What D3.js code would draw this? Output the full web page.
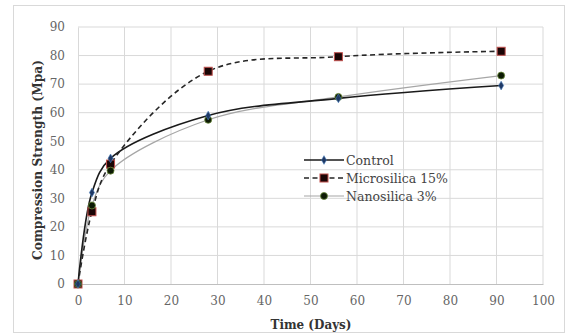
<!DOCTYPE html>
<html>
<head>
<meta charset="utf-8">
<script src="https://cdn.jsdelivr.net/npm/d3@7"></script>
<style>
  html, body { margin: 0; padding: 0; background: #fff; }
  svg { display: block; }
</style>
</head>
<body>
<svg id="chart" width="567" height="335"></svg>
<script>
// Curing age in days
const days = [0, 3, 7, 28, 56, 91];
// Compressive strength (MPa) per mix
const control = [0, 32, 44, 59, 65, 69.5];
const microsilica = [0, 25.3, 42, 74.5, 79.6, 81.5];
const nanosilica = [0, 27.5, 39.7, 57.5, 65.5, 73];
const seriesNames = ["Control", "Microsilica 15%", "Nanosilica 3%"];
const xTicks = [0, 10, 20, 30, 40, 50, 60, 70, 80, 90, 100];
const yTicks = [0, 10, 20, 30, 40, 50, 60, 70, 80, 90];

const svg = d3.select("#chart");
const font = "'DejaVu Serif', 'Liberation Serif', serif";

// scale a text's font size so it spans the given width
function fitWidth(sel, width) {
  const node = sel.node();
  const fs = parseFloat(sel.attr("font-size"));
  const w = node.getComputedTextLength();
  if (w > 0) sel.attr("font-size", (fs * width / w).toFixed(2));
  return sel;
}

// outer frame
svg.append("rect")
  .attr("x", 13.5).attr("y", 5.5).attr("width", 551).attr("height", 327)
  .attr("fill", "#fff").attr("stroke", "#d9d9d9");

const x = d3.scaleLinear().domain([0, 100]).range([78, 543]);
const y = d3.scaleLinear().domain([0, 90]).range([284, 27]);

// grid
const grid = svg.append("g");
grid.selectAll("line.v").data(xTicks.slice(1)).join("line")
  .attr("x1", d => x(d)).attr("x2", d => x(d))
  .attr("y1", y(0)).attr("y2", y(90))
  .attr("stroke", "#d9d9d9");
grid.selectAll("line.h").data(yTicks.slice(1)).join("line")
  .attr("x1", x(0)).attr("x2", x(100))
  .attr("y1", d => y(d)).attr("y2", d => y(d))
  .attr("stroke", "#d9d9d9");

// axes
const xAxis = svg.append("g")
  .attr("transform", `translate(0,${y(0)})`)
  .call(d3.axisBottom(x).tickValues(xTicks).tickSize(0).tickPadding(12));
const yAxis = svg.append("g")
  .attr("transform", `translate(${x(0)},0)`)
  .call(d3.axisLeft(y).tickValues(yTicks).tickSize(0).tickPadding(13));
[xAxis, yAxis].forEach(g => {
  g.select(".domain").attr("stroke", "#bfbfbf");
  g.selectAll("text").attr("font-family", font).attr("font-size", 12).attr("fill", "#666");
});
yAxis.select(".domain").attr("stroke", "#d9d9d9");

// axis titles
const xTitle = svg.append("text")
  .attr("x", 311).attr("y", 329)
  .attr("text-anchor", "middle")
  .attr("font-family", font).attr("font-weight", "bold").attr("font-size", 12)
  .attr("fill", "#333")
  .text("Time (Days)");
fitWidth(xTitle, 81);
const yTitle = svg.append("text")
  .attr("transform", `translate(42,160) rotate(-90)`)
  .attr("text-anchor", "middle")
  .attr("font-family", font).attr("font-weight", "bold").attr("font-size", 12)
  .attr("fill", "#333")
  .text("Compression Strength (Mpa)");
fitWidth(yTitle, 200);

const curve = d3.curveCatmullRom.alpha(0.5);
const line = d3.line().x(d => x(d[0])).y(d => y(d[1])).curve(curve);
const pts = vals => days.map((d, i) => [d, vals[i]]);

const plot = svg.append("g");
// Nanosilica 3%: thin grey line, dark circles
plot.append("path").datum(pts(nanosilica))
  .attr("d", line).attr("fill", "none").attr("stroke", "#a6a6a6").attr("stroke-width", 1.2);
// Control: solid dark line
plot.append("path").datum(pts(control))
  .attr("d", line).attr("fill", "none").attr("stroke", "#1a1a1a").attr("stroke-width", 1.6);
// Microsilica 15%: dashed line
plot.append("path").datum(pts(microsilica))
  .attr("d", line).attr("fill", "none").attr("stroke", "#262626").attr("stroke-width", 1.6)
  .attr("stroke-dasharray", "5,3.5");

plot.selectAll("rect.ms").data(pts(microsilica)).join("rect")
  .attr("x", d => x(d[0]) - 4).attr("y", d => y(d[1]) - 4)
  .attr("width", 8).attr("height", 8)
  .attr("fill", "#1a0505").attr("stroke", "#c0504d").attr("stroke-width", 1);
plot.selectAll("circle.ns").data(pts(nanosilica)).join("circle")
  .attr("cx", d => x(d[0])).attr("cy", d => y(d[1])).attr("r", 3.5)
  .attr("fill", "#0d1a05").attr("stroke", "#6a8a3a").attr("stroke-width", 0.8);
const diamond = d3.symbol().type(d3.symbolDiamond).size(22);
plot.selectAll("path.ct").data(pts(control)).join("path")
  .attr("transform", d => `translate(${x(d[0])},${y(d[1])})`)
  .attr("d", diamond).attr("fill", "#1f3864").attr("stroke", "#4a7ebb").attr("stroke-width", 0.6);

// legend
const legend = svg.append("g");
const rows = [160, 178, 196];
const lx0 = 304, lx1 = 344, lxm = 324;
legend.append("line").attr("x1", lx0).attr("x2", lx1).attr("y1", rows[0]).attr("y2", rows[0])
  .attr("stroke", "#1a1a1a").attr("stroke-width", 1.6);
legend.append("path").attr("transform", `translate(${lxm},${rows[0]})`)
  .attr("d", diamond).attr("fill", "#1f3864").attr("stroke", "#4a7ebb").attr("stroke-width", 0.6);
legend.append("line").attr("x1", lx0).attr("x2", lx1).attr("y1", rows[1]).attr("y2", rows[1])
  .attr("stroke", "#262626").attr("stroke-width", 1.6).attr("stroke-dasharray", "5,3.5");
legend.append("rect").attr("x", lxm - 4).attr("y", rows[1] - 4).attr("width", 8).attr("height", 8)
  .attr("fill", "#1a0505").attr("stroke", "#c0504d").attr("stroke-width", 1);
legend.append("line").attr("x1", lx0).attr("x2", lx1).attr("y1", rows[2]).attr("y2", rows[2])
  .attr("stroke", "#a6a6a6").attr("stroke-width", 1.2);
legend.append("circle").attr("cx", lxm).attr("cy", rows[2]).attr("r", 3.5)
  .attr("fill", "#0d1a05").attr("stroke", "#6a8a3a").attr("stroke-width", 0.8);
const legendText = legend.selectAll("text").data(seriesNames).join("text")
  .attr("x", 346).attr("y", (d, i) => rows[i] + 4.5)
  .attr("font-family", font).attr("font-size", 12).attr("fill", "#444")
  .text(d => d);
// size the legend so its longest entry spans ~102px
const longest = d3.max(legendText.nodes(), n => n.getComputedTextLength());
if (longest > 0) legendText.attr("font-size", (12 * 102 / longest).toFixed(2));
</script>
</body>
</html>
